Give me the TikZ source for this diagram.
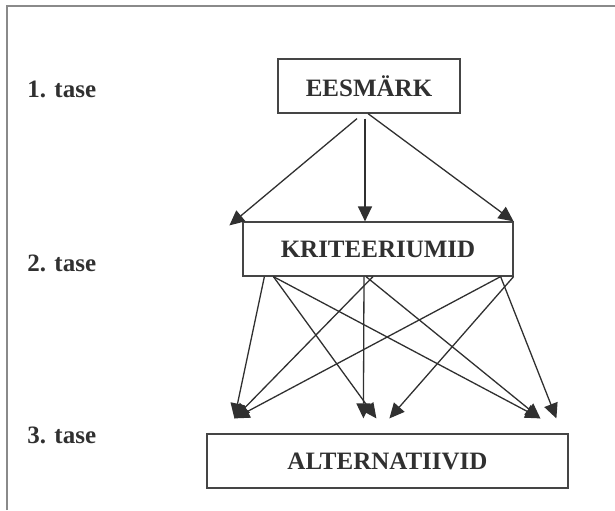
\documentclass[tikz,border=0pt]{standalone}
\usepackage{fontspec}
\setmainfont{Liberation Serif}
\usepackage{xcolor}
\usepackage{tikz}
\usetikzlibrary{arrows.meta, positioning, calc}

\definecolor{ink}{HTML}{303030}
\definecolor{rule}{HTML}{8A8A8A}

\begin{document}
\begin{tikzpicture}[
    x=0.5pt, y=-0.5pt,
    level/.style={draw=ink!90, line width=0.6pt, minimum height=27pt, align=center, font=\fontsize{12.5}{14}\selectfont\bfseries, text=ink, inner sep=0pt},
    tier/.style={anchor=west, font=\fontsize{12.5}{14}\selectfont\bfseries, text=ink, inner sep=0pt},
    arr/.style={-{Triangle[length=7.5pt, width=7pt]}, draw=ink, line width=0.65pt},
    frame/.style={draw=rule, line width=0.7pt},
]
\useasboundingbox (0,0) rectangle (615,510);

% Page frame (top and left only)
\draw[frame] (7,510) -- (7,6) -- (615,6);

% Level labels on the left
\node[tier] (t1) at (27,89) {1. tase};
\node[tier] (t2) at (27,263) {2. tase};
\node[tier] (t3) at (27,435) {3. tase};

% Hierarchy boxes
\node[level, minimum width=91pt] (goal) at (369,86) {EESMÄRK};
\node[level, minimum width=135pt] (crit) at (378,249) {KRITEERIUMID};
\node[level, minimum width=180.5pt] (alt) at (387.5,461) {ALTERNATIIVID};

% Goal -> criteria
\coordinate (k1) at ($(crit.north west)+(-13,4)$);
\coordinate (k2) at ($(crit.north)+(-13,0)$);
\coordinate (k3) at (crit.north east);
\draw[arr] ($(goal.south)+(-12,5)$) -- (k1);
\draw[arr] ($(goal.south)+(-4,5)$) -- (k2);
\draw[arr] ($(goal.south)+(-1,0)$) -- (k3);

% Criteria -> alternatives
\coordinate (s1) at ($(crit.south west)+(22,0)$);
\coordinate (s2) at ($(crit.south west)+(31,0)$);
\coordinate (s3) at ($(crit.south)+(-14,0)$);
\coordinate (s4) at ($(crit.south)+(-12,0)$);
\coordinate (s5) at ($(crit.south)+(-5,0)$);
\coordinate (s6) at ($(crit.south east)+(-13,0)$);
\coordinate (s7) at (crit.south east);
\coordinate (a1) at ($(alt.north west)+(28,-15)$);
\coordinate (a2) at ($(alt.north west)+(157,-15)$);
\coordinate (a3) at ($(alt.north west)+(170,-15)$);
\coordinate (a4) at ($(alt.north west)+(183,-15)$);
\coordinate (a5) at ($(alt.north west)+(334,-15)$);
\coordinate (a6) at ($(alt.north west)+(350,-15)$);
\foreach \s/\t in {s1/a1, s2/a3, s2/a5, s5/a1, s3/a2, s4/a5, s6/a1, s7/a4, s6/a6} {
    \draw[arr] (\s) -- (\t);
}

\end{tikzpicture}
\end{document}
